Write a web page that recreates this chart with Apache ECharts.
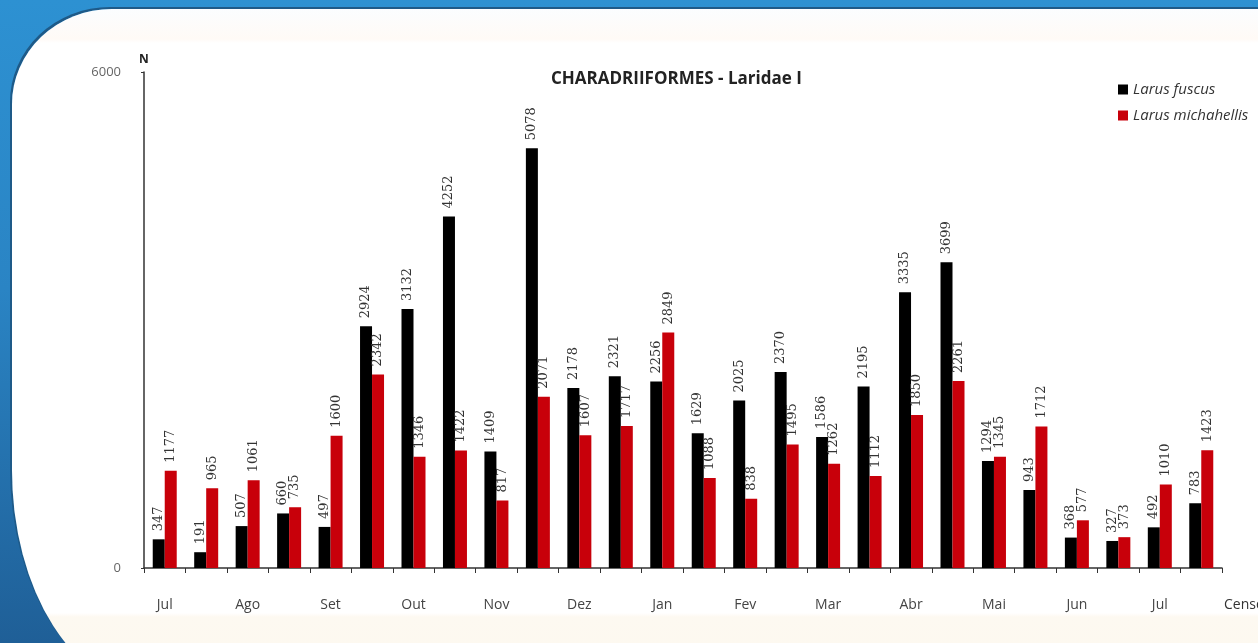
<!DOCTYPE html>
<html>
<head>
<meta charset="utf-8">
<script src="https://cdn.jsdelivr.net/npm/echarts@6/dist/echarts.min.js"></script>
<style>
  html, body { margin: 0; padding: 0; }
  body {
    width: 1258px; height: 643px; overflow: hidden; position: relative;
    background: linear-gradient(180deg, #2d91d2 0%, #2a84c4 45%, #1f5f97 100%);
  }
  /* white panel with rounded corners, like the slide frame */
  #panel {
    position: absolute; left: 12px; top: 9px; width: 1320px; height: 681px;
    background: linear-gradient(180deg, #fbfdff 0px, #fffaf6 30px, #ffffff 34px, #ffffff 604px, #fdf9f1 608px, #fdf8ee 100%);
    border-top-left-radius: 100px 95px;
    border-bottom-left-radius: 140px 220px;
    box-shadow: -2px -2px 0 #1e5a88;
  }
  #chart { position: absolute; left: 0; top: 0; width: 1258px; height: 643px; }
</style>
</head>
<body>
<div id="panel"></div>
<div id="chart"></div>
<script>
// meses dos censos (2 censos por mes)
var months = ['Jul', 'Ago', 'Set', 'Out', 'Nov', 'Dez', 'Jan', 'Fev', 'Mar', 'Abr', 'Mai', 'Jun', 'Jul'];
var larusFuscus = [347, 191, 507, 660, 497, 2924, 3132, 4252, 1409, 5078, 2178, 2321, 2256,
                   1629, 2025, 2370, 1586, 2195, 3335, 3699, 1294, 943, 368, 327, 492, 783];
var larusMichahellis = [1177, 965, 1061, 735, 1600, 2342, 1346, 1422, 817, 2071, 1607, 1717, 2849,
                        1088, 838, 1495, 1262, 1112, 1850, 2261, 1345, 1712, 577, 373, 1010, 1423];
var yTicks = [0, 6000];

var censos = [];
months.forEach(function (m, i) {
    censos.push(m + '|' + (2 * i));
    censos.push(m + '|' + (2 * i + 1));
});

var myChart = echarts.init(document.getElementById('chart'));

var barLabel = {
    show: true,
    position: 'top',
    rotate: 90,
    align: 'left',
    verticalAlign: 'middle',
    distance: 8,
    fontFamily: 'DejaVu Serif',
    fontSize: 13,
    color: '#333'
};

var option = {
    backgroundColor: 'transparent',
    animation: false,
    title: {
        text: 'CHARADRIIFORMES - Laridae I',
        left: 546,
        top: 66,
        textStyle: {
            fontFamily: 'Open Sans',
            fontWeight: 'bold',
            fontSize: 17,
            color: '#222'
        }
    },
    legend: {
        orient: 'vertical',
        left: 1113,
        top: 77,
        itemWidth: 10,
        itemHeight: 10,
        itemGap: 11,
        textStyle: {
            fontFamily: 'Open Sans',
            fontStyle: 'italic',
            fontSize: 15,
            color: '#333'
        },
        data: [
            { name: 'Larus fuscus', icon: 'rect' },
            { name: 'Larus michahellis', icon: 'rect' }
        ]
    },
    grid: {
        left: 144,
        right: 36,
        top: 72,
        bottom: 75,
        outerBoundsMode: 'none'
    },
    xAxis: {
        type: 'category',
        data: censos,
        name: 'Censos',
        nameLocation: 'end',
        nameGap: 2,
        nameTextStyle: {
            fontFamily: 'Open Sans',
            fontSize: 14,
            color: '#333',
            verticalAlign: 'top',
            padding: [30, 0, 0, 0]
        },
        axisLine: { lineStyle: { color: '#333', width: 1.5 } },
        axisTick: {
            show: true,
            interval: 0,
            alignWithLabel: false,
            length: 5,
            lineStyle: { color: '#333' }
        },
        axisLabel: {
            interval: 1,
            margin: 30,
            fontFamily: 'Open Sans',
            fontSize: 14,
            color: '#444',
            formatter: function (v) { return v.split('|')[0]; }
        }
    },
    yAxis: {
        type: 'value',
        min: yTicks[0],
        max: yTicks[1],
        interval: yTicks[1] - yTicks[0],
        name: 'N',
        nameLocation: 'end',
        nameGap: 6,
        nameTextStyle: {
            fontFamily: 'Open Sans',
            fontWeight: 'bold',
            fontSize: 12,
            color: '#222'
        },
        axisLine: { show: true, lineStyle: { color: '#333', width: 1.5 } },
        axisTick: { show: true, length: 3, lineStyle: { color: '#333' } },
        splitLine: { show: false },
        axisLabel: {
            margin: 23,
            fontFamily: 'Open Sans',
            fontSize: 13,
            color: '#666',
            formatter: function (v) { return String(v); }
        }
    },
    series: [
        {
            name: 'Larus fuscus',
            type: 'bar',
            barWidth: 12,
            barGap: '0%',
            itemStyle: { color: '#000000' },
            label: barLabel,
            data: larusFuscus
        },
        {
            name: 'Larus michahellis',
            type: 'bar',
            barWidth: 12,
            barGap: '0%',
            itemStyle: { color: '#c8000a' },
            label: barLabel,
            data: larusMichahellis
        }
    ]
};
myChart.setOption(option);
</script>
</body>
</html>
